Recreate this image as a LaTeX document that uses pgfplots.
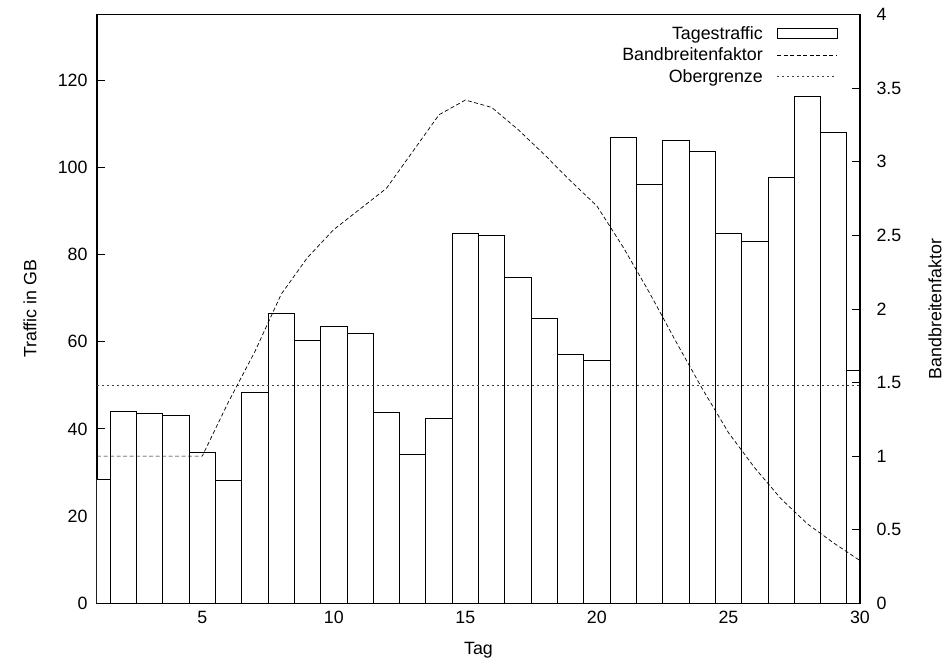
\documentclass[border=0pt]{standalone}
\usepackage{fontspec}
\setmainfont{Liberation Sans}
\usepackage{pgfplots}
\pgfplotsset{compat=1.18}
\newcommand\gf{\fontsize{17.8}{20}\selectfont}
\pgfplotsset{
  boxlegend/.style={legend image code/.code={\draw[#1] (0pt,-5pt) rectangle (60pt,5pt);}},
  linelegend/.style={legend image code/.code={\draw[#1] (0pt,0pt) -- (60pt,0pt);}},
  gpbase/.style={
    scale only axis, width=763pt, height=588.6pt,
    at={(0,0)}, anchor=south west,
    xmin=1, xmax=30,
    tick align=inside, major tick length=8pt,
    tick style={black, line width=0.8pt},
    axis line style={black, line width=1.1pt},
    tick label style={font=\gf},
    label style={font=\gf},
    /pgf/number format/assume math mode=true,
  },
}

\begin{document}
\begin{tikzpicture}
\begin{axis}[gpbase,
  ymin=0, ymax=135,
  xtick={5,10,...,30}, ytick={0,20,...,120},
  xtick pos=bottom, ytick pos=left,
  xticklabel style={yshift=-4pt},
  yticklabel style={xshift=-6pt},
  xlabel={Tag}, ylabel={Traffic in GB},
  xlabel style={at={(axis description cs:0.5,-0.0799)}, anchor=center},
  ylabel style={at={(axis description cs:-0.0878,0.5)}, anchor=center},
]
\addplot[ybar, bar width=1, fill=white, draw=black, line width=0.8pt] coordinates {
 (1,28.5) (2,43.9) (3,43.5) (4,43.0) (5,34.7) (6,28.3) (7,48.3) (8,66.5)
 (9,60.3) (10,63.6) (11,61.9) (12,43.8) (13,34.1) (14,42.3) (15,84.9)
 (16,84.4) (17,74.7) (18,65.4) (19,57.2) (20,55.6) (21,106.8) (22,96.0)
 (23,106.2) (24,103.6) (25,84.8) (26,83.1) (27,97.7) (28,116.3) (29,107.9)
 (30,53.4)};
\addplot[black!75, line width=0.9pt, dash pattern=on 2pt off 3pt] coordinates {(1,50) (30,50)};
\end{axis}

\begin{axis}[gpbase,
  ymin=0, ymax=4,
  axis x line=none, axis y line*=right,
  ytick={0,0.5,...,4}, ytick pos=right,
  yticklabel style={xshift=13pt, anchor=west},
  ylabel={Bandbreitenfaktor},
  ylabel style={at={(axis description cs:1.0983,0.5)}, anchor=center},
  legend plot pos=right,
  legend cell align=right,
  legend style={at={(axis description cs:0.971,0.984)}, anchor=north east,
    draw=none, fill=none, font=\gf, row sep=3pt, inner sep=0pt,
    /tikz/every odd column/.append style={column sep=12pt}},
]
\addlegendimage{boxlegend, draw=black, fill=white, line width=0.8pt}
\addlegendentry{Tagestraffic}
\addplot[linelegend, black, line width=0.7pt, dash pattern=on 4pt off 2.5pt] coordinates {
 (1,1.0) (2,1.0) (3,1.0) (4,1.0) (5,1.0) (6,1.37) (7,1.71) (8,2.10)
 (9,2.35) (10,2.54) (11,2.68) (12,2.82) (13,3.07) (14,3.32) (15,3.42)
 (16,3.37) (17,3.22) (18,3.05) (19,2.87) (20,2.70) (21,2.42) (22,2.11)
 (23,1.78) (24,1.46) (25,1.16) (26,0.92) (27,0.71) (28,0.54) (29,0.41)
 (30,0.29)};
\addlegendentry{Bandbreitenfaktor}
\addlegendimage{linelegend, black!75, line width=0.9pt, dash pattern=on 2pt off 3pt}
\addlegendentry{Obergrenze}
\end{axis}
\pgfresetboundingbox
\path[use as bounding box] (-97pt,-60.7pt) rectangle (849pt,603.3pt);
\end{tikzpicture}
\end{document}
